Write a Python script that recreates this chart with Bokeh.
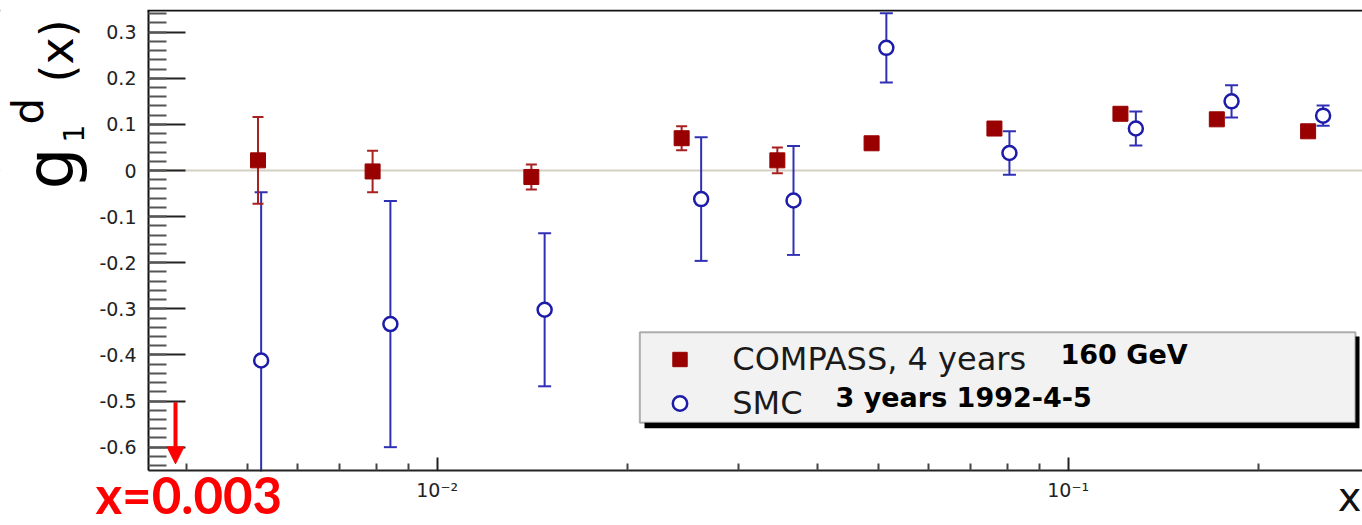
import numpy as np
from math import pi
from bokeh.plotting import figure
from bokeh.models import (Range1d, FixedTicker, Span, Legend, LegendItem, Label,
                          Arrow, NormalHead, BoxAnnotation)
from bokeh.embed import file_html
from bokeh.resources import INLINE

# ---------------- data ----------------
compass_x = [0.00520, 0.00790, 0.0141, 0.0244, 0.0346, 0.0488, 0.0764, 0.121, 0.172, 0.240]
compass_y = [0.022, -0.002, -0.014, 0.070, 0.022, 0.059, 0.091, 0.123, 0.111, 0.085]
compass_err = [0.094, 0.045, 0.027, 0.026, 0.028, 0.010, 0.006, 0.006, 0.006, 0.007]

smc_x = [0.00526, 0.00843, 0.0148, 0.0262, 0.0367, 0.0515, 0.0807, 0.128, 0.1815, 0.2535]
smc_y = [-0.412, -0.333, -0.302, -0.062, -0.065, 0.266, 0.038, 0.091, 0.150, 0.119]
smc_err = [0.365, 0.267, 0.166, 0.134, 0.118, 0.075, 0.047, 0.037, 0.035, 0.022]

y_ticks = [-0.6, -0.5, -0.4, -0.3, -0.2, -0.1, 0.0, 0.1, 0.2, 0.3]
y_tick_labels = ["-0.6", "-0.5", "-0.4", "-0.3", "-0.2", "-0.1", "0", "0.1", "0.2", "0.3"]
x_ticks = [0.01, 0.1]
x_tick_labels = ["10\u207b\u00b2", "10\u207b\u00b9"]
x_minor = [0.004, 0.005, 0.006, 0.007, 0.008, 0.009,
           0.02, 0.03, 0.04, 0.05, 0.06, 0.07, 0.08, 0.09, 0.2]
y_minor = [round(v, 2) for v in np.arange(-0.64, 0.35, 0.02)]

legend_labels = ["COMPASS, 4 years", "SMC"]
legend_extra = ["160 GeV", "3 years 1992-4-5"]

# ---------------- styles / geometry ----------------
RED = "#990000"
RED_ERR = "#a82020"
BLUE = "#1c1ca8"
BLUE_ERR = "#3030b4"
FONT = "DejaVu Sans"

W, H = 1362, 525
PX_1E2 = 436.7        # pixel column of x = 1e-2
PX_DECADE = 631.0     # pixels per decade
PY_ZERO = 170.0       # pixel row of y = 0
PY_UNIT = 461.1       # pixels per unit of y
AX_LEFT, AX_BOTTOM, AX_TOP = 148, 470, 10   # pixel positions of the drawn axes
BASE_SHIFT = 0.33     # baseline correction (fraction of font size) for "alphabetic"


def xdata(px):
    return 10 ** (-2 + (px - PX_1E2) / PX_DECADE)


def ydata(py):
    return (PY_ZERO - py) / PY_UNIT


def sx(img_x):
    return img_x


def sy(img_y):
    return H - img_y


def screen_box(left, right, top, bottom, **kw):
    return BoxAnnotation(left=sx(left), right=sx(right), top=sy(top), bottom=sy(bottom),
                         left_units="screen", right_units="screen",
                         top_units="screen", bottom_units="screen", **kw)


def text_at(txt, img_x, img_base_y, size, font=FONT, bold=False, color="black",
            align="left", rotated=False):
    if rotated:
        x, y = img_x - BASE_SHIFT * size, img_base_y
    else:
        x, y = img_x, img_base_y - BASE_SHIFT * size
    return Label(x=sx(x), y=sy(y), x_units="screen", y_units="screen", text=txt,
                 text_font=font, text_font_size=f"{size}px",
                 text_font_style="bold" if bold else "normal", text_color=color,
                 text_align=align, text_baseline="alphabetic",
                 angle=pi / 2 if rotated else 0, level="overlay")


p = figure(width=W, height=H, x_axis_type="log",
           x_range=Range1d(xdata(0), xdata(W)), y_range=Range1d(ydata(H), ydata(0)),
           output_backend="svg", toolbar_location=None)
p.min_border = 0
p.min_border_left = 0
p.min_border_right = 0
p.min_border_top = 0
p.min_border_bottom = 0
p.outline_line_color = None
p.background_fill_color = "white"
p.border_fill_color = "white"
p.xgrid.visible = False
p.ygrid.visible = False

# zero line and top frame border
p.add_layout(Span(location=0, dimension="width", line_color="#d6cfc3", line_width=2,
                  level="underlay"))
p.add_layout(Span(location=ydata(AX_TOP), dimension="width", line_color="#111111",
                  line_width=2, level="underlay"))

# error bars
c_lo = [y - e for y, e in zip(compass_y, compass_err)]
c_hi = [y + e for y, e in zip(compass_y, compass_err)]
s_lo = [y - e for y, e in zip(smc_y, smc_err)]
s_hi = [y + e for y, e in zip(smc_y, smc_err)]

p.segment(x0=smc_x, y0=s_lo, x1=smc_x, y1=s_hi, line_color=BLUE_ERR, line_width=2)
p.scatter(x=smc_x + smc_x, y=s_lo + s_hi, marker="dash", size=13,
          line_color=BLUE_ERR, line_width=2)
p.segment(x0=compass_x, y0=c_lo, x1=compass_x, y1=c_hi, line_color=RED_ERR, line_width=2)
p.scatter(x=compass_x + compass_x, y=c_lo + c_hi, marker="dash", size=11,
          line_color=RED_ERR, line_width=2)

r_c = p.scatter(x=compass_x, y=compass_y, marker="square", size=15,
                fill_color=RED, line_color=RED)
r_s = p.scatter(x=smc_x, y=smc_y, marker="circle", size=14,
                fill_color="white", line_color=BLUE, line_width=2.5)

# white masks outside the drawn axes box
p.add_layout(screen_box(0, AX_LEFT - 1, 0, H, fill_color="white", fill_alpha=1, line_color=None))
p.add_layout(screen_box(0, W, AX_BOTTOM + 1, H, fill_color="white", fill_alpha=1, line_color=None))
p.add_layout(screen_box(0, W, 0, AX_TOP - 1, fill_color="white", fill_alpha=1, line_color=None))

# axes at the reference positions
yax = p.yaxis[0]
yax.fixed_location = xdata(AX_LEFT)
yax.bounds = (ydata(AX_BOTTOM), ydata(AX_TOP))
yax.level = "overlay"
yax.ticker = FixedTicker(ticks=y_ticks, minor_ticks=y_minor)
yax.major_label_overrides = dict(zip(y_ticks, y_tick_labels))
yax.major_tick_in = 37
yax.major_tick_out = 0
yax.minor_tick_in = 18
yax.minor_tick_out = 0
yax.major_tick_line_width = 2
yax.minor_tick_line_width = 2
yax.major_tick_line_color = "#222222"
yax.minor_tick_line_color = "#555555"
yax.axis_line_width = 2
yax.axis_line_color = "#111111"
yax.major_label_text_font = FONT
yax.major_label_text_font_size = "19px"
yax.major_label_text_color = "#222222"
yax.major_label_standoff = 12

xax = p.xaxis[0]
xax.fixed_location = ydata(AX_BOTTOM)
xax.bounds = (xdata(AX_LEFT), xdata(W))
xax.level = "overlay"
xax.ticker = FixedTicker(ticks=x_ticks, minor_ticks=x_minor)
xax.major_label_overrides = dict(zip(x_ticks, x_tick_labels))
xax.major_tick_in = 13
xax.major_tick_out = 0
xax.minor_tick_in = 7
xax.minor_tick_out = 0
xax.major_tick_line_width = 2
xax.minor_tick_line_width = 2
xax.major_tick_line_color = "#222222"
xax.minor_tick_line_color = "#444444"
xax.axis_line_width = 2
xax.axis_line_color = "#222222"
xax.major_label_text_font = FONT
xax.major_label_text_font_size = "19px"
xax.major_label_text_color = "#222222"
xax.major_label_standoff = 8

# legend: shadow, box, then transparent legend items on top
p.add_layout(screen_box(644, 1359, 336, 427.7, fill_color="black", fill_alpha=1, line_color=None))
p.add_layout(screen_box(639.3, 1355, 331.7, 422.3, fill_color="#f2f2f2", fill_alpha=1,
                        line_color="black", line_width=2))

legend = Legend(items=[LegendItem(label=legend_labels[0], renderers=[r_c]),
                       LegendItem(label=legend_labels[1], renderers=[r_s])],
                location=(sx(639.3), sy(422.3)), orientation="vertical",
                label_text_font=FONT, label_text_font_size="32px",
                label_text_color="#1a1a1a",
                label_height=36, glyph_height=36, glyph_width=81,
                label_standoff=12, padding=5, spacing=6, margin=0, label_width=300,
                border_line_color=None, background_fill_alpha=0)
p.add_layout(legend)

p.add_layout(text_at(legend_extra[0], 1060, 363, 27, bold=True))
p.add_layout(text_at(legend_extra[1], 835, 406, 27, bold=True))

# y-axis title g1^d(x), rotated (reads bottom to top)
p.add_layout(text_at("g", 72, 189, 66, rotated=True))
p.add_layout(text_at("1", 82, 142, 28, rotated=True))
p.add_layout(text_at("d", 42, 124, 42, rotated=True))
p.add_layout(text_at("(x)", 72, 82, 46, rotated=True))

# x-axis title
p.add_layout(text_at("x", 1361, 510, 40, color="#111111", align="right"))

# red arrow and x=0.003 annotation
p.add_layout(Arrow(end=NormalHead(size=17, fill_color="red", line_color="red"),
                   x_start=sx(175), y_start=sy(401.7), x_end=sx(175), y_end=sy(463.3),
                   start_units="screen", end_units="screen",
                   line_color="red", line_width=4, level="overlay"))
p.add_layout(Label(x=sx(95), y=sy(524), x_units="screen", y_units="screen",
                   text="x=0.003", text_font="Lato", text_font_style="bold",
                   text_font_size="51px", text_color="#ff0000",
                   text_baseline="bottom", level="overlay"))

open("out.html", "w").write(file_html(p, INLINE))
